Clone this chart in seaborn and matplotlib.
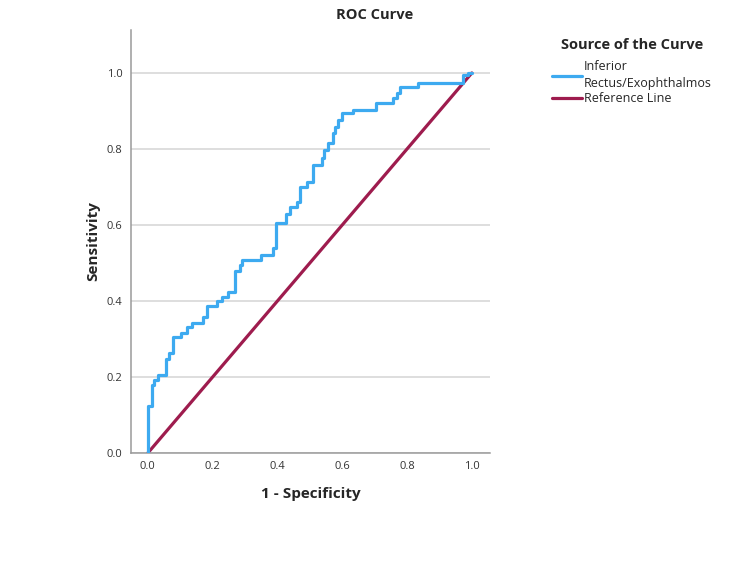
import matplotlib
matplotlib.use("Agg")
import matplotlib.pyplot as plt
import seaborn as sns
import pandas as pd

# ROC corner points (1 - specificity, sensitivity), drawn as vertical-then-horizontal steps
fpr = [0.0, 0.012, 0.018, 0.031, 0.056, 0.065, 0.077, 0.102, 0.120, 0.136,
       0.170, 0.182, 0.213, 0.228, 0.247, 0.269, 0.284, 0.290, 0.350, 0.386,
       0.395, 0.426, 0.438, 0.460, 0.469, 0.490, 0.509, 0.537, 0.543, 0.556,
       0.570, 0.577, 0.587, 0.599, 0.633, 0.705, 0.757, 0.768, 0.778, 0.833,
       0.972, 0.988, 1.0]
tpr = [0.0, 0.124, 0.179, 0.192, 0.205, 0.247, 0.263, 0.305, 0.316, 0.332,
       0.342, 0.358, 0.387, 0.400, 0.410, 0.424, 0.480, 0.495, 0.508, 0.520,
       0.540, 0.605, 0.630, 0.647, 0.660, 0.700, 0.713, 0.758, 0.775, 0.797,
       0.815, 0.842, 0.858, 0.876, 0.894, 0.903, 0.920, 0.934, 0.947, 0.963,
       0.974, 0.995, 1.0]
ref_x = [0.0, 1.0]
ref_y = [0.0, 1.0]
series_names = ["Inferior\nRectus/Exophthalmos", "Reference Line"]
ticks = [0.0, 0.2, 0.4, 0.6, 0.8, 1.0]
tick_labels = ["0.0", "0.2", "0.4", "0.6", "0.8", "1.0"]

sns.set_theme(style="white")
plt.rcParams["font.family"] = ["Open Sans", "DejaVu Sans"]

fig = plt.figure(figsize=(7.5, 5.63), dpi=100)
ax = fig.add_axes([131 / 750, 1 - 453 / 563, (490 - 131) / 750, (453 - 30) / 563])

blue = "#3DAAF0"
red = "#9E1C4E"

roc_df = pd.DataFrame({"x": fpr, "y": tpr})
ref_df = pd.DataFrame({"x": ref_x, "y": ref_y})

for t in ticks:
    ax.axhline(t, color="#D4D4D4", lw=1.1, zorder=0)

sns.lineplot(data=roc_df, x="x", y="y", ax=ax, color=blue, lw=2.3,
             drawstyle="steps-pre", sort=False, estimator=None,
             label=series_names[0], zorder=3)
sns.lineplot(data=ref_df, x="x", y="y", ax=ax, color=red, lw=2.3,
             sort=False, estimator=None, label=series_names[1], zorder=2)

ax.set_xlim(-0.052, 1.056)
ax.set_ylim(0.0, 1.113)
ax.set_xticks(ticks)
ax.set_xticklabels(tick_labels)
ax.set_yticks(ticks)
ax.set_yticklabels(tick_labels)
ax.tick_params(axis="both", length=0, labelsize=8, colors="#333333", pad=6)

for s in ["top", "right"]:
    ax.spines[s].set_visible(False)
for s in ["left", "bottom"]:
    ax.spines[s].set_color("#9A9A9A")
    ax.spines[s].set_linewidth(1.1)

ax.set_xlabel("1 - Specificity", fontsize=11, fontweight="bold", labelpad=10.5)
ax.set_ylabel("Sensitivity", fontsize=11, fontweight="bold", labelpad=5)
fig.suptitle("ROC Curve", x=0.5, y=1 - 15 / 563, va="center",
             fontsize=10.5, fontweight="bold")

ax.get_legend().remove()
handles, labels = ax.get_legend_handles_labels()
leg = fig.legend(handles, labels, loc="upper left",
                 bbox_to_anchor=(552 / 750, 1 - 38 / 563),
                 title="Source of the Curve", frameon=False,
                 fontsize=9, title_fontproperties={"weight": "bold", "size": 10.5},
                 handlelength=2.4, handletextpad=0.15, labelspacing=0.2,
                 borderaxespad=0, borderpad=0)
leg._legend_box.sep = 6
for txt in leg.get_texts():
    txt.set_linespacing(1.35)

fig.savefig("out.png", dpi=100, facecolor="white")
